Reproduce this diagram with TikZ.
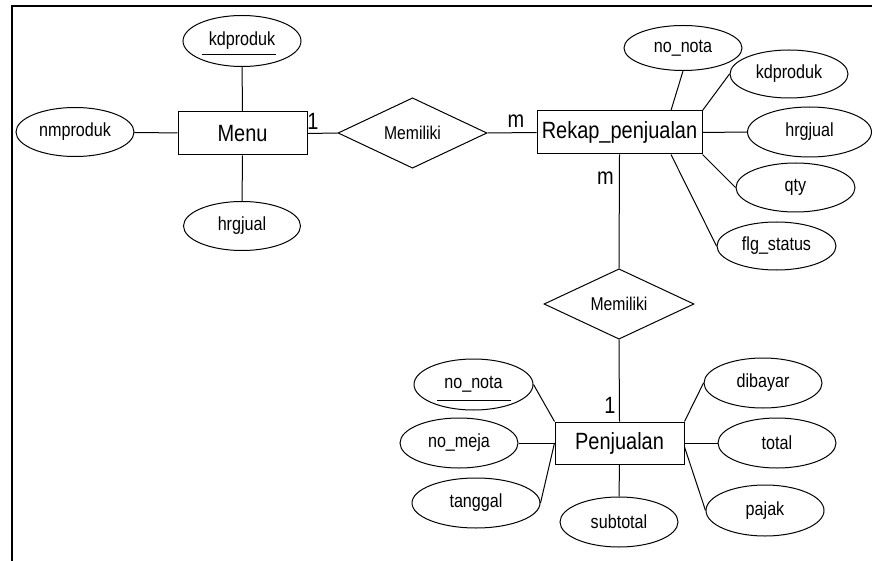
\documentclass[tikz,border=0pt]{standalone}
\usepackage{fontspec}
\setmainfont[FakeStretch=0.85]{Liberation Sans}
\usetikzlibrary{shapes.geometric,calc}
\begin{document}
\begin{tikzpicture}[x=1pt,y=-1pt,
  every path/.style={line width=1pt},
  attr/.style={ellipse,draw,line width=1pt,inner sep=0pt,minimum width=118pt,minimum height=49pt,font=\fontsize{19}{19}\selectfont},
  ent/.style={rectangle,draw,line width=1pt,inner sep=0pt,minimum width=129pt,minimum height=43pt,font=\fontsize{23.5}{23.5}\selectfont},
  rel/.style={diamond,draw,line width=1pt,inner sep=0pt,minimum width=150pt,minimum height=69pt,font=\fontsize{18.5}{18.5}\selectfont},
  card/.style={inner sep=0pt,font=\fontsize{23.5}{23.5}\selectfont},
  conn/.style={draw,line width=1pt}]
\useasboundingbox (0,0) rectangle (872,561);
% frame
\draw[line width=1.4pt] (12,561) -- (12,6) -- (872,6);

% entities
\node[ent] (menu) at (242.5,133.5) {Menu};
\node[ent,minimum width=165pt] (rek) at (619.5,132.5) {Rekap\_penjualan};
\node[ent,minimum height=42pt] (pj) at (619.5,443) {Penjualan};

% relationships
\node[rel,minimum width=149pt,minimum height=70pt] (mem1) at (412.5,133) {Memiliki};
\node[rel,minimum height=68pt] (mem2) at (619,304) {Memiliki};

% Menu attributes
\node[attr,minimum height=51pt] (kd) at (242,41) {kdproduk};
\node[attr] (nm) at (75,132) {nmproduk};
\node[attr,minimum width=117pt] (hj) at (242,226) {hrgjual};

% Rekap attributes
\node[attr,minimum height=45pt] (nn) at (683,48) {no\_nota};
\node[attr,minimum height=48pt] (kd2) at (789,74) {kdproduk};
\node[attr,minimum width=124pt,minimum height=50pt] (hj2) at (809.5,132) {hrgjual};
\node[attr,minimum width=119pt] (qty) at (795.5,187.5) {qty};
\node[attr,minimum width=119pt,minimum height=48pt] (flg) at (776.5,246) {flg\_status};

% Penjualan attributes
\node[attr,minimum width=119pt,minimum height=51pt] (nn2) at (473.5,384.5) {no\_nota};
\node[attr,minimum height=50pt] (nmj) at (459,443) {no\_meja};
\node[attr,minimum width=128pt,minimum height=50pt] (tg) at (476,503) {tanggal};
\node[attr,minimum height=50pt] (st) at (619,522) {subtotal};
\node[attr,minimum height=50pt] (db) at (763,383) {dibayar};
\node[attr,minimum height=50pt] (tot) at (777,443) {total};
\node[attr,minimum height=51pt] (pjk) at (765,510.5) {pajak};

% key underlines
\draw ($(kd.center)+(-40,14)$) -- ($(kd.center)+(34,14)$);
\draw ($(nn2.center)+(-36.5,15.5)$) -- ($(nn2.center)+(37.5,15.5)$);

% connectors Menu
\draw[conn] (kd) -- (menu);
\draw[conn] (nm) -- (menu);
\draw[conn] (hj) -- (menu);
\draw[conn] (menu.east) -- (mem1.west);
\draw[conn] (mem1.east) -- (rek.west);

% connectors Rekap
\draw[conn] (nn.south) -- ($(rek.north west)!0.81!(rek.north east)$);
\draw[conn] (kd2.west) -- (rek.north east);
\draw[conn] (rek.east) -- (hj2.west);
\draw[conn] (rek.south east) -- (qty.west);
\draw[conn] ($(rek.south west)!0.81!(rek.south east)$) -- (flg.west);
\draw[conn] (rek.south) -- (mem2.north);
\draw[conn] (mem2.south) -- (pj.north);

% connectors Penjualan
\draw[conn] (nn2.east) -- (pj.north west);
\draw[conn] (nmj.east) -- (pj.west);
\draw[conn] (tg.east) -- (pj.west);
\draw[conn] (pj.south) -- (st.north);
\draw[conn] (db.west) -- (pj.north east);
\draw[conn] (pj.east) -- (tot.west);
\draw[conn] ($(pj.east)+(0,4)$) -- (pjk.west);

% cardinalities
\node[card] (c1) at (313,121) {1};
\node[card] (c2) at (516,121) {m};
\node[card] (c3) at (605.5,178) {m};
\node[card] (c4) at (610,405) {1};
\end{tikzpicture}
\end{document}
